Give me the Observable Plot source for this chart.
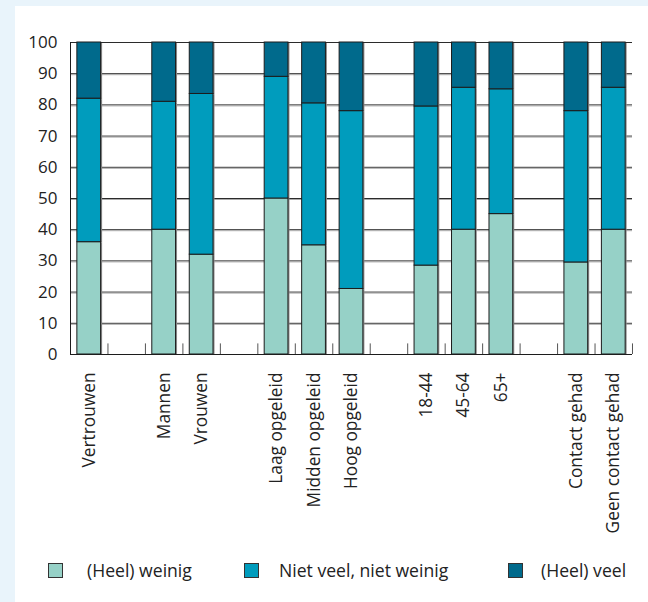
<!DOCTYPE html>
<html>
<head>
<meta charset="utf-8">
<script src="https://cdn.jsdelivr.net/npm/d3@7"></script>
<script src="https://cdn.jsdelivr.net/npm/@observablehq/plot@0.6"></script>
<style>
  html, body { margin: 0; padding: 0; }
  body { width: 648px; height: 602px; background: #e9f4fb; position: relative; overflow: hidden; font-family: "Open Sans", sans-serif; }
  #panel { position: absolute; left: 15px; top: 6px; width: 633px; height: 596px; background: #fff; }
  #chart { position: absolute; left: 15px; top: 6px; }
  .sw { position: absolute; width: 15px; height: 15px; border: 1px solid #333; box-sizing: border-box; }
  .lt { position: absolute; font-size: 17.6px; color: #222; line-height: 20px; white-space: nowrap; }
</style>
</head>
<body>
<div id="panel"></div>
<div id="chart"></div>
<div id="legend"></div>
<script>
// Slots on the x axis (blank slots start with "_")
const categories = ["Vertrouwen", "_1", "Mannen", "Vrouwen", "_2", "Laag opgeleid", "Midden opgeleid", "Hoog opgeleid", "_3", "18-44", "45-64", "65+", "_4", "Contact gehad", "Geen contact gehad"];
const barCategories = ["Vertrouwen", "Mannen", "Vrouwen", "Laag opgeleid", "Midden opgeleid", "Hoog opgeleid", "18-44", "45-64", "65+", "Contact gehad", "Geen contact gehad"];
const series = ["(Heel) weinig", "Niet veel, niet weinig", "(Heel) veel"];
const colors = ["#96d1c7", "#009cbd", "#006a8c"];
const weinig = [36, 40, 32, 50, 35, 21, 28.5, 40, 45, 29.5, 40];
const nietVeel = [46, 41, 51.5, 39, 45.5, 57, 51, 45.5, 40, 48.5, 45.5];
const veel = [18, 19, 16.5, 11, 19.5, 22, 20.5, 14.5, 15, 22, 14.5];
const yTicks = [0, 10, 20, 30, 40, 50, 60, 70, 80, 90, 100];

const valuesBySeries = [weinig, nietVeel, veel];
const data = barCategories.flatMap((c, i) =>
  series.map((s, j) => ({cat: c, series: s, value: valuesBySeries[j][i]}))
);

const width = 633, marginLeft = 55, marginRight = 16;
const step = (width - marginLeft - marginRight) / categories.length;

const chart = Plot.plot({
  width,
  height: 530,
  marginLeft,
  marginRight,
  marginTop: 36,
  marginBottom: 182,
  style: {fontFamily: "'Open Sans', sans-serif", fontSize: "17px", color: "#222", background: "transparent"},
  x: {domain: categories, paddingInner: 0.366, paddingOuter: 0.183, align: 0.5, round: false, label: null},
  y: {domain: [0, 100], label: null},
  color: {domain: series, range: colors},
  marks: [
    Plot.ruleY(yTicks.filter(d => d > 0), {stroke: "#2b2b2b", strokeWidth: 1}),
    Plot.ruleY(yTicks.filter(d => d > 0 && d < 100), {stroke: "#aaa", strokeWidth: 1, dy: 1}),
    Plot.barY(data, {x: "cat", y: "value", fill: "#8a8a8a", dx: 1.5, dy: 1}),
    Plot.barY(data, {x: "cat", y: "value", fill: "series", stroke: "#1c1c1c", strokeWidth: 1}),
    Plot.ruleX(categories, {x: d => d, dx: step / 2, y1: 0, y2: 3.4, stroke: "#555", strokeWidth: 1}),
    Plot.ruleX([categories[0]], {x: d => d, dx: -step / 2, y1: 0, y2: 100, stroke: "#1c1c1c", strokeWidth: 1}),
    Plot.ruleY([0], {stroke: "#1c1c1c", strokeWidth: 1.2}),
    Plot.axisY({ticks: yTicks, tickSize: 0, tickPadding: 13, label: null, fontSize: "17px"}),
    Plot.axisX({tickRotate: -90, tickSize: 0, tickPadding: 18, label: null, fontSize: "17.3px",
      tickFormat: d => d.startsWith("_") ? "" : d})
  ]
});
document.getElementById("chart").appendChild(chart);

// Legend
const legendSwatchX = [48, 244, 508];
const legendTextX = [87, 279, 541];
const legend = document.getElementById("legend");
series.forEach((s, i) => {
  const sw = document.createElement("div");
  sw.className = "sw";
  sw.style.left = legendSwatchX[i] + "px";
  sw.style.top = "563px";
  sw.style.background = colors[i];
  legend.appendChild(sw);
  const t = document.createElement("div");
  t.className = "lt";
  t.style.left = legendTextX[i] + "px";
  t.style.top = "560px";
  t.textContent = s;
  legend.appendChild(t);
});
</script>
</body>
</html>
